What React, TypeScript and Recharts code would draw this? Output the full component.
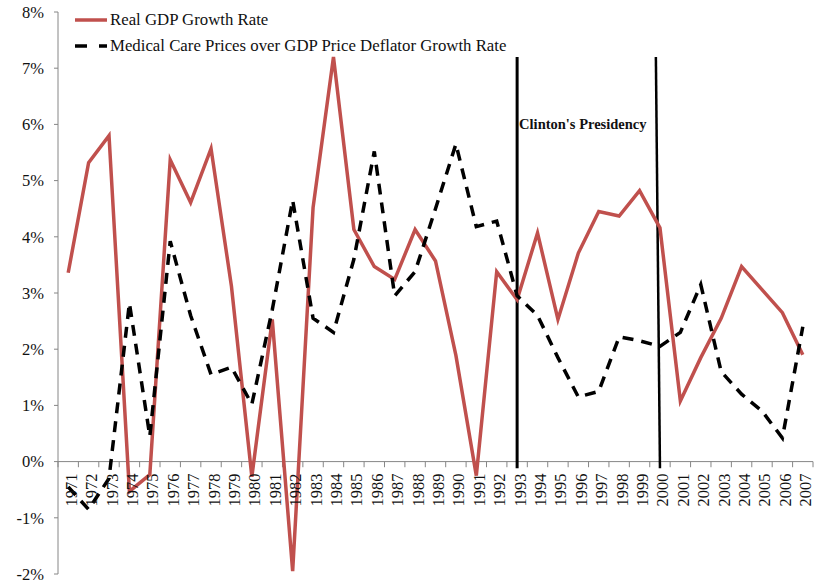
import React from "react";
import {
  LineChart, Line, XAxis, YAxis, ReferenceLine, ReferenceDot, Legend
} from "recharts";

const years = [
  1971, 1972, 1973, 1974, 1975, 1976, 1977, 1978, 1979, 1980,
  1981, 1982, 1983, 1984, 1985, 1986, 1987, 1988, 1989, 1990,
  1991, 1992, 1993, 1994, 1995, 1996, 1997, 1998, 1999, 2000,
  2001, 2002, 2003, 2004, 2005, 2006, 2007,
];

const gdpGrowth = [
  3.36, 5.32, 5.8, -0.53, -0.23, 5.37, 4.61, 5.57, 3.12, -0.27,
  2.53, -1.95, 4.52, 7.2, 4.13, 3.47, 3.24, 4.13, 3.57, 1.89,
  -0.25, 3.38, 2.88, 4.07, 2.53, 3.71, 4.45, 4.37, 4.82, 4.16,
  1.08, 1.85, 2.55, 3.47, 3.06, 2.65, 1.9,
];

const medicalOverDeflator = [
  -0.45, -0.85, -0.3, 2.82, 0.45, 3.92, 2.6, 1.55, 1.68, 1.02,
  2.7, 4.65, 2.55, 2.3, 3.6, 5.52, 2.95, 3.38, 4.5, 5.65,
  4.18, 4.28, 2.95, 2.6, 1.85, 1.15, 1.25, 2.22, 2.15, 2.05,
  2.3, 3.15, 1.6, 1.2, 0.9, 0.42, 2.4,
];

const yTicks = [-2, -1, 0, 1, 2, 3, 4, 5, 6, 7, 8];

const presidencyStart = 1993;
const presidencyEnd = 2000;
const presidencyLabel = "Clinton's Presidency";

const gdpName = "Real GDP Growth Rate";
const medName = "Medical Care Prices over GDP Price Deflator Growth Rate";

const RED = "#C0504D";
const FONT = "'Liberation Serif', 'Times New Roman', serif";

const data = years.map((y, i) => ({
  year: y,
  gdp: gdpGrowth[i],
  med: medicalOverDeflator[i],
}));

// boundaries between categories, where Excel draws its tick marks
const boundaries = [years[0] - 0.5, ...years.map(y => y + 0.5)];

function YearLabel(props: any) {
  const { viewBox, value } = props;
  const cx = viewBox.x + (viewBox.width || 0) / 2;
  const cy = viewBox.y + (viewBox.height || 0) / 2;
  return (
    <text
      transform={`translate(${cx + 3}, ${cy + 12}) rotate(-90)`}
      textAnchor="end"
      dominantBaseline="central"
      fontFamily={FONT}
      fontSize={16.5}
      fill="#111"
    >
      {value}
    </text>
  );
}

function PresidencyLabel(props: any) {
  const { viewBox } = props;
  const cx = viewBox.x + (viewBox.width || 0) / 2;
  const cy = viewBox.y + (viewBox.height || 0) / 2;
  return (
    <text
      x={cx + 2}
      y={cy}
      dominantBaseline="central"
      fontFamily={FONT}
      fontSize={14.5}
      fontWeight="bold"
      fill="#111"
    >
      {presidencyLabel}
    </text>
  );
}

function LegendBox() {
  const row = { display: "flex", alignItems: "center", height: 26 } as const;
  return (
    <div style={{ fontFamily: FONT, fontSize: 16.8, color: "#111", whiteSpace: "nowrap" }}>
      <div style={row}>
        <svg width={37} height={10}>
          <line x1={2} y1={5} x2={34} y2={5} stroke={RED} strokeWidth={3.5} />
        </svg>
        <span>{gdpName}</span>
      </div>
      <div style={row}>
        <svg width={37} height={10}>
          <line x1={2} y1={5} x2={34} y2={5} stroke="#000" strokeWidth={3.5} strokeDasharray="12 12" />
        </svg>
        <span>{medName}</span>
      </div>
    </div>
  );
}

export default function App() {
  return (
    <div style={{ position: "absolute", left: 0, top: 0, width: 814, height: 583, background: "#fff" }}>
      <LineChart
        width={814}
        height={583}
        data={data}
        margin={{ top: 12, right: 1, bottom: 9, left: 0 }}
      >
        <XAxis
          dataKey="year"
          type="number"
          domain={[years[0] - 0.5, years[years.length - 1] + 0.5]}
          hide
        />
        <YAxis
          domain={[-2, 8]}
          ticks={yTicks}
          width={58}
          tickFormatter={(v: number) => `${v}%`}
          tick={{ fontFamily: FONT, fontSize: 16.5, fill: "#111" }}
          tickSize={4}
          tickMargin={10}
          axisLine={{ stroke: "#868686" }}
          tickLine={{ stroke: "#868686" }}
          interval={0}
        />
        <ReferenceLine y={0} stroke="#868686" strokeWidth={1} />
        {boundaries.map(b => (
          <ReferenceLine
            key={`t${b}`}
            segment={[{ x: b, y: 0 }, { x: b, y: -0.1 }]}
            stroke="#868686"
          />
        ))}
        {years.map(y => (
          <ReferenceDot
            key={`l${y}`}
            x={y}
            y={0}
            r={0}
            fill="none"
            stroke="none"
            label={<YearLabel value={y} />}
          />
        ))}
        <ReferenceLine
          segment={[{ x: presidencyStart, y: -0.12 }, { x: presidencyStart, y: 7.2 }]}
          stroke="#000"
          strokeWidth={3}
        />
        <ReferenceLine
          segment={[{ x: presidencyEnd, y: -0.12 }, { x: presidencyEnd - 0.2, y: 7.2 }]}
          stroke="#000"
          strokeWidth={2.5}
        />
        <ReferenceDot
          x={presidencyStart}
          y={6}
          r={0}
          fill="none"
          stroke="none"
          label={<PresidencyLabel />}
        />
        <Line
          type="linear"
          dataKey="gdp"
          name={gdpName}
          stroke={RED}
          strokeWidth={3.5}
          dot={false}
          isAnimationActive={false}
        />
        <Line
          type="linear"
          dataKey="med"
          name={medName}
          stroke="#000"
          strokeWidth={3.5}
          strokeDasharray="11 8"
          dot={false}
          isAnimationActive={false}
        />
        <Legend
          layout="vertical"
          align="center"
          verticalAlign="middle"
          wrapperStyle={{ left: 73, top: 7, width: "auto", height: "auto" }}
          content={() => <LegendBox />}
        />
      </LineChart>
    </div>
  );
}
